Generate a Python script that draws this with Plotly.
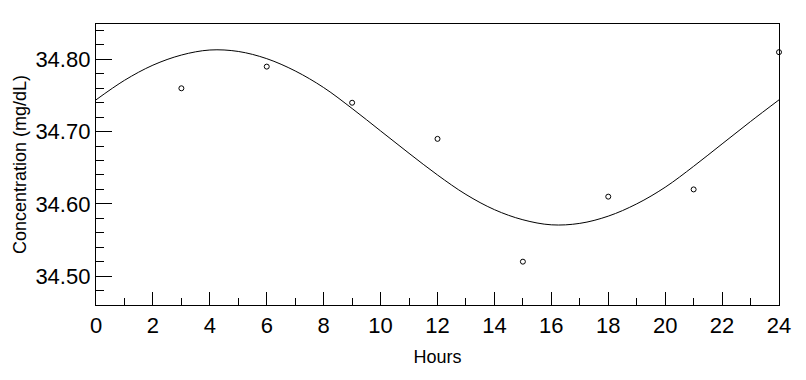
import plotly.graph_objects as go

# Observed data points
obs_hours = [3, 6, 9, 12, 15, 18, 21, 24]
obs_conc = [34.76, 34.79, 34.74, 34.69, 34.52, 34.61, 34.62, 34.81]

# Fitted curve at each hour
fit_hours = list(range(0, 25))
fit_conc = [34.744, 34.771, 34.792, 34.806, 34.813, 34.811, 34.801, 34.784,
            34.761, 34.732, 34.701, 34.670, 34.640, 34.613, 34.592, 34.578,
            34.571, 34.573, 34.583, 34.600, 34.623, 34.652, 34.683, 34.714,
            34.744]

x_ticks = list(range(0, 25, 2))
y_ticks = [34.50, 34.60, 34.70, 34.80]
y_tick_labels = ["34.50", "34.60", "34.70", "34.80"]

FONT = "Liberation Sans, Arial, sans-serif"

fig = go.Figure()
fig.add_trace(go.Scatter(
    x=fit_hours, y=fit_conc, mode="lines",
    line=dict(color="black", width=1, shape="spline"),
    hoverinfo="skip", showlegend=False,
))
fig.add_trace(go.Scatter(
    x=obs_hours, y=obs_conc, mode="markers",
    marker=dict(symbol="circle-open", size=5, color="black",
                line=dict(color="black", width=1)),
    showlegend=False, cliponaxis=False,
))

fig.update_layout(
    width=806, height=380,
    margin=dict(l=96, r=27, t=24, b=75),
    paper_bgcolor="white", plot_bgcolor="white",
    font=dict(family=FONT, color="black"),
    xaxis=dict(
        range=[0, 24], tickvals=x_ticks, ticks="inside", ticklen=13,
        tickwidth=1, tickcolor="black",
        minor=dict(dtick=1, tick0=0, ticks="inside", ticklen=7,
                   tickwidth=1, tickcolor="black", showgrid=False),
        showline=True, linecolor="black", linewidth=1.3, mirror=True,
        showgrid=False, zeroline=False,
        tickfont=dict(size=22, family=FONT),
        title=dict(text="Hours", font=dict(size=18, family=FONT), standoff=13),
    ),
    yaxis=dict(
        range=[34.46, 34.849], tickvals=y_ticks, ticktext=y_tick_labels,
        ticks="inside", ticklen=16, tickwidth=1, tickcolor="black",
        minor=dict(dtick=0.02, tick0=34.5, ticks="inside", ticklen=8,
                   tickwidth=1, tickcolor="black", showgrid=False),
        showline=True, linecolor="black", linewidth=1.3, mirror=True,
        showgrid=False, zeroline=False,
        tickfont=dict(size=22, family=FONT),
        title=dict(text="Concentration (mg/dL)", font=dict(size=18, family=FONT),
                   standoff=4),
    ),
)

fig.write_html("out.html",
               config={"displayModeBar": False},
               post_script="document.body.style.margin='0';document.body.style.overflow='hidden';")
